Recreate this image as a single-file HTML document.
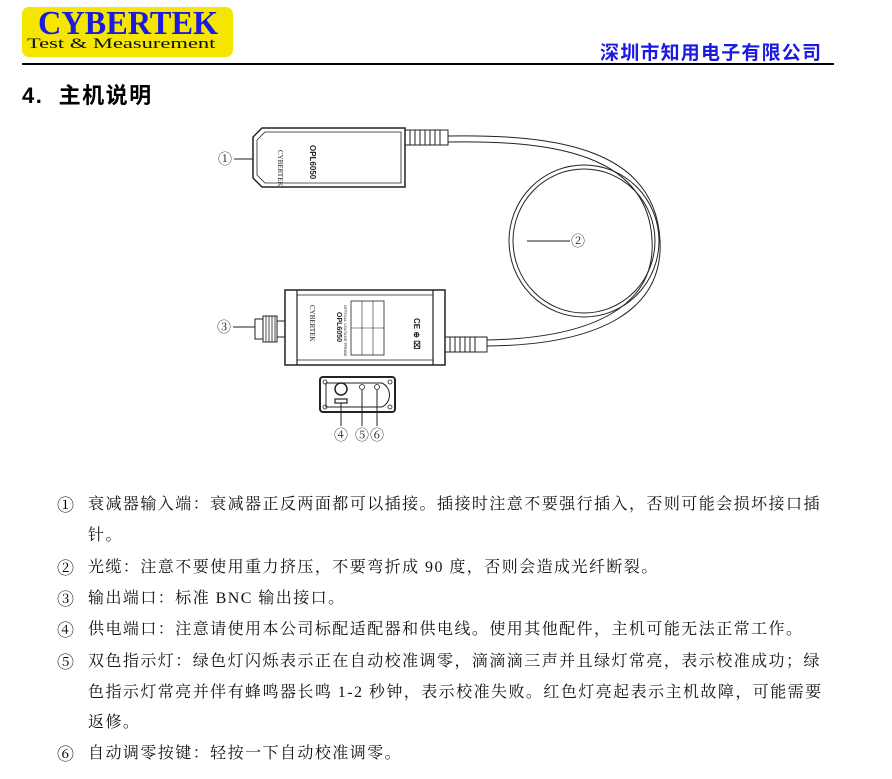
<!DOCTYPE html>
<html><head><meta charset="utf-8"><style>
body{margin:0;width:892px;height:779px;background:#fff;position:relative;overflow:hidden;font-family:"Liberation Serif","Noto Serif CJK SC",serif;}
.a{position:absolute;white-space:nowrap;}
.t{font-size:16px;color:#111;letter-spacing:1.45px;}
.n{position:absolute;left:57px;font-size:17px;}
</style></head><body>
<div class="a" style="left:22px;top:7px;width:211px;height:50px;background:#f4e600;border-radius:7px;"></div>
<div class="a" style="left:38px;top:5px;font:bold 34px 'Liberation Serif',serif;color:#1a1ae0;transform:scaleX(0.95);transform-origin:left;">CYBERTEK</div>
<div class="a" style="left:27px;top:36px;font:15px 'Liberation Serif',serif;color:#111;transform:scaleX(1.5);transform-origin:left;">Test &amp; Measurement</div>
<div class="a" style="left:600px;top:38px;font:bold 19px 'Noto Sans CJK SC',sans-serif;color:#1a1ae0;letter-spacing:1.2px;">深圳市知用电子有限公司</div>
<div class="a" style="left:22px;top:63px;width:812px;height:2px;background:#000;"></div>
<div class="a" style="left:22px;top:78px;font:bold 22px 'Liberation Sans','Noto Sans CJK SC',sans-serif;letter-spacing:1.5px;">4.&nbsp; 主机说明</div>

<svg class="a" style="left:0;top:0" width="892" height="470" fill="none" stroke="#222" stroke-width="1.2">
<path d="M448 136 C 560 134, 655 150, 660 240 C 664 310, 600 345, 487 346" stroke-width="1"/>
<path d="M448 142 C 555 140, 648 155, 652 240 C 656 305, 595 338, 487 340" stroke-width="1"/>
<ellipse cx="584" cy="241" rx="75" ry="76" stroke-width="1"/>
<ellipse cx="584" cy="241" rx="71" ry="72" stroke-width="1"/>
<path d="M262 128 H405 V187 H262 L253 178 V137 Z" stroke-width="1.5"/>
<path d="M265 132 H401 V183 H265 L257 175 V140 Z" stroke-width="0.8"/>
<rect x="405" y="130" width="43" height="15" stroke-width="1"/>
<g stroke-width="1"><line x1="410" y1="130" x2="410" y2="145"/><line x1="415" y1="130" x2="415" y2="145"/><line x1="420" y1="130" x2="420" y2="145"/><line x1="425" y1="130" x2="425" y2="145"/><line x1="430" y1="130" x2="430" y2="145"/><line x1="435" y1="130" x2="435" y2="145"/><line x1="440" y1="130" x2="440" y2="145"/></g>
<text x="278" y="150" transform="rotate(90 278 150)" font-size="7" fill="#222" stroke="none" font-family="Liberation Serif">CYBERTEK</text>
<text x="310" y="145" transform="rotate(90 310 145)" font-size="8" font-weight="bold" fill="#222" stroke="none" font-family="Liberation Sans">OPL6050</text>
<rect x="285" y="290" width="160" height="75" stroke-width="1.5"/>
<line x1="297" y1="290" x2="297" y2="365"/><line x1="433" y1="290" x2="433" y2="365"/>
<line x1="297" y1="295" x2="433" y2="295" stroke-width="0.8"/><line x1="297" y1="360" x2="433" y2="360" stroke-width="0.8"/>
<rect x="351" y="301" width="33" height="54" stroke-width="0.8"/>
<line x1="362" y1="301" x2="362" y2="355" stroke-width="0.6"/><line x1="373" y1="301" x2="373" y2="355" stroke-width="0.6"/><line x1="351" y1="328" x2="384" y2="328" stroke-width="0.6"/>
<text x="310" y="305" transform="rotate(90 310 305)" font-size="7" fill="#222" stroke="none" font-family="Liberation Serif">CYBERTEK</text>
<text x="337" y="312" transform="rotate(90 337 312)" font-size="7" font-weight="bold" fill="#222" stroke="none" font-family="Liberation Sans">OPL6050</text>
<text x="344" y="305" transform="rotate(90 344 305)" font-size="4" fill="#222" stroke="none" font-family="Liberation Sans">OPTICAL VOLTAGE PROBE</text>
<text x="414" y="318" transform="rotate(90 414 318)" font-size="8" font-weight="bold" fill="#222" stroke="none" font-family="Liberation Sans">CE ⊕ ⌧</text>
<rect x="255" y="319" width="8" height="20" stroke-width="1"/>
<rect x="263" y="316" width="14" height="26" stroke-width="1"/>
<rect x="277" y="321" width="8" height="16" stroke-width="1"/>
<g stroke-width="0.8"><line x1="266" y1="316" x2="266" y2="342"/><line x1="269" y1="316" x2="269" y2="342"/><line x1="272" y1="316" x2="272" y2="342"/><line x1="275" y1="316" x2="275" y2="342"/></g>
<rect x="445" y="337" width="42" height="15" stroke-width="1"/>
<g stroke-width="1"><line x1="450" y1="337" x2="450" y2="352"/><line x1="455" y1="337" x2="455" y2="352"/><line x1="460" y1="337" x2="460" y2="352"/><line x1="465" y1="337" x2="465" y2="352"/><line x1="470" y1="337" x2="470" y2="352"/><line x1="475" y1="337" x2="475" y2="352"/></g>
<rect x="320" y="377" width="75" height="35" rx="3" stroke-width="2"/>
<path d="M326 383 H382 C392 388 392 402 382 407 H326 Z" stroke-width="1"/>
<circle cx="341" cy="389" r="6" stroke-width="1.5"/>
<rect x="335" y="399" width="12" height="4" stroke-width="1.2"/>
<circle cx="362" cy="387" r="2.5" stroke-width="0.8"/><circle cx="377" cy="387" r="2.5" stroke-width="0.8"/>
<circle cx="325" cy="382" r="2" stroke-width="0.8"/><circle cx="390" cy="382" r="2" stroke-width="0.8"/><circle cx="325" cy="407" r="2" stroke-width="0.8"/><circle cx="390" cy="407" r="2" stroke-width="0.8"/>
<line x1="234" y1="159" x2="253" y2="159" stroke-width="1"/>
<line x1="527" y1="241" x2="570" y2="241" stroke-width="1"/>
<line x1="233" y1="327" x2="255" y2="327" stroke-width="1"/>
<line x1="341" y1="403" x2="341" y2="426" stroke-width="1"/>
<line x1="362" y1="390" x2="362" y2="426" stroke-width="1"/>
<line x1="377" y1="390" x2="377" y2="426" stroke-width="1"/>
<g fill="#222" stroke="none" font-size="14" font-family="Noto Serif CJK SC,serif">
<text x="218" y="164">①</text><text x="571" y="246">②</text><text x="217" y="332">③</text>
<text x="334" y="440">④</text><text x="355" y="440">⑤</text><text x="370" y="440">⑥</text>
</g>
</svg>

<div class="a n" style="top:491px">①</div><div class="a t" style="left:88px;top:491px">衰减器输入端：衰减器正反两面都可以插接。插接时注意不要强行插入，否则可能会损坏接口插</div>
<div class="a t" style="left:88px;top:522px">针。</div>
<div class="a n" style="top:554px">②</div><div class="a t" style="left:88px;top:554px">光缆：注意不要使用重力挤压，不要弯折成 90 度，否则会造成光纤断裂。</div>
<div class="a n" style="top:585px">③</div><div class="a t" style="left:88px;top:585px">输出端口：标准 BNC 输出接口。</div>
<div class="a n" style="top:616px">④</div><div class="a t" style="left:88px;top:616px">供电端口：注意请使用本公司标配适配器和供电线。使用其他配件，主机可能无法正常工作。</div>
<div class="a n" style="top:648px">⑤</div><div class="a t" style="left:88px;top:648px">双色指示灯：绿色灯闪烁表示正在自动校准调零，滴滴滴三声并且绿灯常亮，表示校准成功；绿</div>
<div class="a t" style="left:88px;top:679px">色指示灯常亮并伴有蜂鸣器长鸣 1-2 秒钟，表示校准失败。红色灯亮起表示主机故障，可能需要</div>
<div class="a t" style="left:88px;top:709px">返修。</div>
<div class="a n" style="top:740px">⑥</div><div class="a t" style="left:88px;top:740px">自动调零按键：轻按一下自动校准调零。</div>
</body></html>
